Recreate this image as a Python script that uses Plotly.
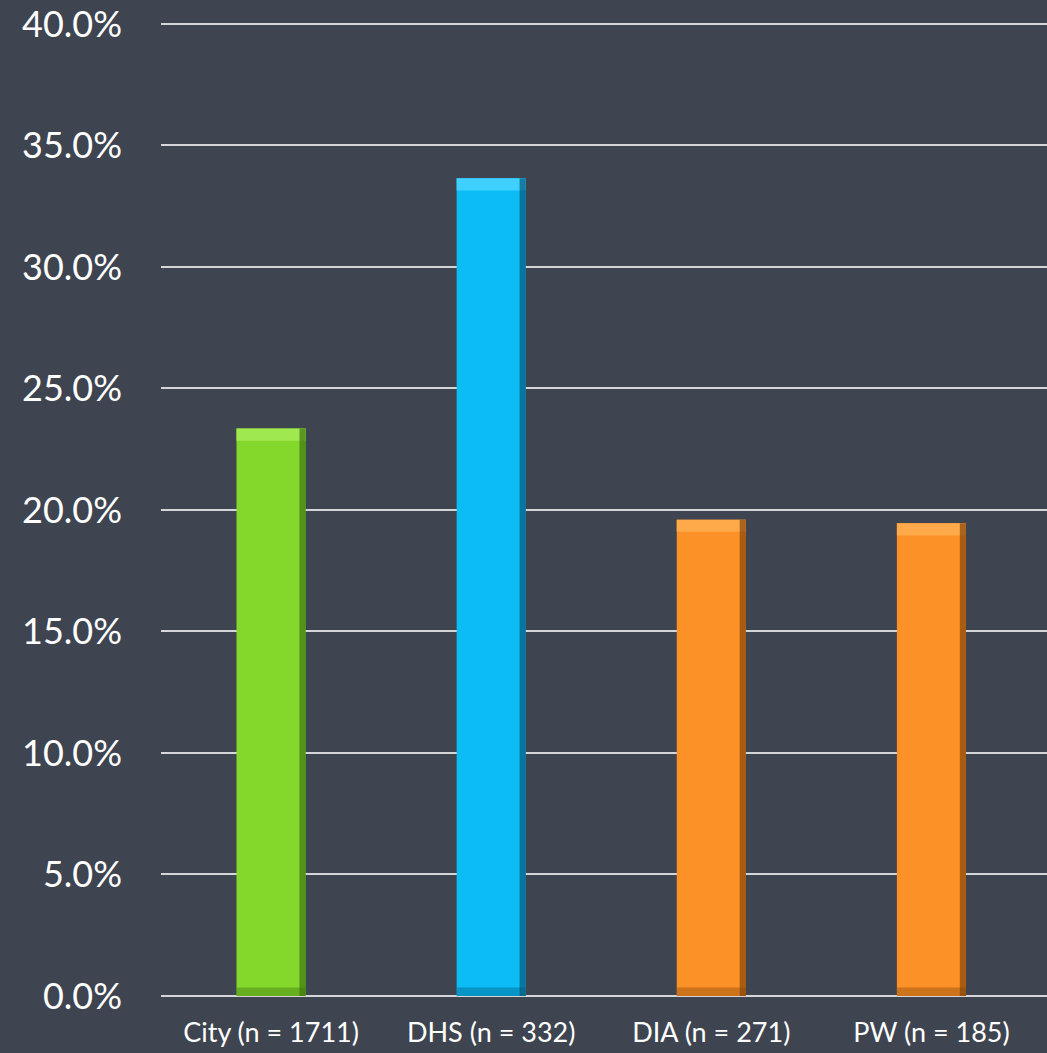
import plotly.graph_objects as go

categories = ["City (n = 1711)", "DHS (n = 332)", "DIA (n = 271)", "PW (n = 185)"]
values = [23.35, 33.65, 19.6, 19.45]
colors = ["#84d82c", "#0bbcf5", "#fb9127", "#fb9127"]
light_colors = ["#9fe84f", "#3fd0ff", "#ffaa4a", "#ffaa4a"]
dark_colors = ["#3f7410", "#04587a", "#86450a", "#86450a"]
tick_vals = [0, 5, 10, 15, 20, 25, 30, 35, 40]
tick_text = [f"{v:.1f}%" for v in tick_vals]

BAR_W = 0.314
EDGE_W = 0.028
TOP_H = 0.5

fig = go.Figure()
# main bars
fig.add_trace(go.Bar(
    x=categories, y=values, width=BAR_W,
    marker=dict(color=colors, line=dict(width=0)),
    hoverinfo="x+y",
))
# top bevel (lighter band)
fig.add_trace(go.Bar(
    x=categories, y=[TOP_H] * len(values), base=[v - TOP_H for v in values],
    width=BAR_W, marker=dict(color=light_colors, line=dict(width=0)),
    hoverinfo="skip",
))
# right bevel (darker strip)
fig.add_trace(go.Bar(
    x=categories, y=values, width=EDGE_W, offset=BAR_W / 2 - EDGE_W,
    marker=dict(color=dark_colors, line=dict(width=0), opacity=0.7),
    hoverinfo="skip",
))
# bottom bevel (darker band)
fig.add_trace(go.Bar(
    x=categories, y=[0.35] * len(values), width=BAR_W,
    marker=dict(color=dark_colors, line=dict(width=0), opacity=0.4),
    hoverinfo="skip",
))

fig.update_layout(
    width=1047, height=1053,
    margin=dict(l=161, r=0, t=22, b=57),
    paper_bgcolor="#3e4450", plot_bgcolor="#3e4450",
    showlegend=False, barmode="overlay",
    font=dict(family="Lato, Open Sans, sans-serif", color="#ffffff"),
    xaxis=dict(range=[-0.5, 3.525], showgrid=False, zeroline=False,
               showline=False, ticks="", tickfont=dict(size=27, color="#ffffff"),
               ticklabelstandoff=18),
    yaxis=dict(range=[0, 40.08], tickvals=tick_vals, ticktext=tick_text,
               showgrid=True, gridcolor="#d4d6da", gridwidth=2,
               zeroline=True, zerolinecolor="#d4d6da", zerolinewidth=2,
               showline=False, ticks="", tickfont=dict(size=36, color="#ffffff"),
               ticklabelstandoff=38),
)
fig.write_html("out.html")
